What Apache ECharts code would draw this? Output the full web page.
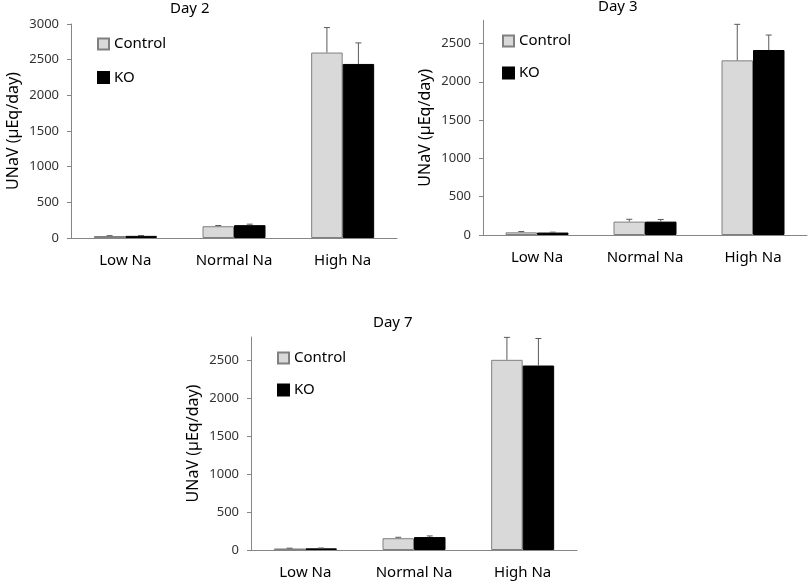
<!DOCTYPE html>
<html>
<head>
<meta charset="utf-8">
<script src="https://cdn.jsdelivr.net/npm/echarts@6/dist/echarts.min.js"></script>
<style>
  html, body { margin: 0; padding: 0; background: #ffffff; }
  #chart { width: 810px; height: 583px; }
</style>
</head>
<body>
<div id="chart"></div>
<script>
var categories = ['Low Na', 'Normal Na', 'High Na'];
var panelTitles = ['Day 2', 'Day 3', 'Day 7'];

// mean values
var day2Control = [28, 165, 2600];
var day2KO = [30, 180, 2440];
var day3Control = [35, 175, 2280];
var day3KO = [32, 175, 2415];
var day7Control = [20, 155, 2500];
var day7KO = [22, 170, 2425];

// upper error bar lengths
var day2ControlErr = [5, 10, 350];
var day2KOErr = [5, 14, 295];
var day3ControlErr = [10, 30, 470];
var day3KOErr = [5, 28, 195];
var day7ControlErr = [4, 12, 295];
var day7KOErr = [4, 15, 355];

var day2Ticks = [0, 500, 1000, 1500, 2000, 2500, 3000];
var day37Ticks = [0, 500, 1000, 1500, 2000, 2500];

var font = 'Noto Sans';
var axisGrey = '#868686';
var barWidth = 31.5;

var chart = echarts.init(document.getElementById('chart'));

function yAxisFor(gridIdx, max, ticks) {
  return {
    type: 'value',
    gridIndex: gridIdx,
    min: 0,
    max: max,
    interval: 500,
    name: 'UNaV (µEq/day)',
    nameLocation: 'middle',
    nameGap: 50,
    nameTextStyle: { fontFamily: font, fontSize: 16, color: '#000' },
    axisLine: { show: true, lineStyle: { color: axisGrey, width: 1 } },
    axisTick: { show: true, length: 4, customValues: ticks, lineStyle: { color: axisGrey } },
    axisLabel: {
      margin: 12, customValues: ticks, fontFamily: font, fontSize: 13, color: '#333',
      formatter: function (v) { return String(v); }
    },
    splitLine: { show: false }
  };
}

function xAxisFor(gridIdx) {
  return {
    type: 'category',
    gridIndex: gridIdx,
    data: categories,
    axisLine: { show: true, lineStyle: { color: axisGrey, width: 1 } },
    axisTick: { show: false },
    axisLabel: { margin: 15, fontFamily: font, fontSize: 15, color: '#000', interval: 0 }
  };
}

function barSeries(gridIdx, name, values, color, border) {
  return {
    type: 'bar',
    name: name,
    xAxisIndex: gridIdx,
    yAxisIndex: gridIdx,
    data: values,
    barWidth: barWidth,
    barGap: '0%',
    itemStyle: { color: color, borderColor: border, borderWidth: 1 },
    emphasis: { disabled: true }
  };
}

function errorSeries(gridIdx, means, errs, shift) {
  return {
    type: 'custom',
    xAxisIndex: gridIdx,
    yAxisIndex: gridIdx,
    silent: true,
    z: 5,
    encode: { x: 0, y: [1, 2] },
    data: means.map(function (m, i) { return [i, m, m + errs[i]]; }),
    renderItem: function (params, api) {
      var base = api.coord([api.value(0), api.value(1)]);
      var top = api.coord([api.value(0), api.value(2)]);
      var x = base[0] + shift;
      var st = { stroke: '#5a5a5a', lineWidth: 1 };
      return {
        type: 'group',
        children: [
          { type: 'line', shape: { x1: x, y1: base[1], x2: x, y2: top[1] }, style: st },
          { type: 'line', shape: { x1: x - 3, y1: top[1], x2: x + 3, y2: top[1] }, style: st }
        ]
      };
    }
  };
}

function legendAt(left, top, gap) {
  return {
    data: ['Control', 'KO'],
    orient: 'vertical',
    left: left,
    top: top,
    padding: 0,
    itemWidth: 11,
    itemHeight: 11,
    itemGap: gap,
    icon: 'rect',
    selectedMode: false,
    textStyle: { fontFamily: font, fontSize: 15, color: '#000' }
  };
}

function titleAt(i, left, top) {
  return {
    text: panelTitles[i],
    left: left,
    top: top,
    padding: 0,
    textStyle: { fontFamily: font, fontSize: 15, fontWeight: 'normal', color: '#000' }
  };
}

chart.setOption({
  animation: false,
  title: [titleAt(0, 170, 1), titleAt(1, 598, -1), titleAt(2, 373, 315)],
  legend: [legendAt(97, 36.5, 18.5), legendAt(502, 33.5, 17), legendAt(277, 350.5, 17)],
  grid: [
    { left: 71, top: 24, width: 326, height: 214 },
    { left: 483, top: 20.5, width: 324, height: 214.5 },
    { left: 251, top: 337, width: 326, height: 213 }
  ],
  xAxis: [xAxisFor(0), xAxisFor(1), xAxisFor(2)],
  yAxis: [yAxisFor(0, 3000, day2Ticks), yAxisFor(1, 2800, day37Ticks), yAxisFor(2, 2800, day37Ticks)],
  series: [
    barSeries(0, 'Control', day2Control, '#d9d9d9', '#808080'),
    barSeries(0, 'KO', day2KO, '#000000', '#000000'),
    barSeries(1, 'Control', day3Control, '#d9d9d9', '#808080'),
    barSeries(1, 'KO', day3KO, '#000000', '#000000'),
    barSeries(2, 'Control', day7Control, '#d9d9d9', '#808080'),
    barSeries(2, 'KO', day7KO, '#000000', '#000000'),
    errorSeries(0, day2Control, day2ControlErr, -barWidth / 2),
    errorSeries(0, day2KO, day2KOErr, barWidth / 2),
    errorSeries(1, day3Control, day3ControlErr, -barWidth / 2),
    errorSeries(1, day3KO, day3KOErr, barWidth / 2),
    errorSeries(2, day7Control, day7ControlErr, -barWidth / 2),
    errorSeries(2, day7KO, day7KOErr, barWidth / 2)
  ]
});
</script>
</body>
</html>
